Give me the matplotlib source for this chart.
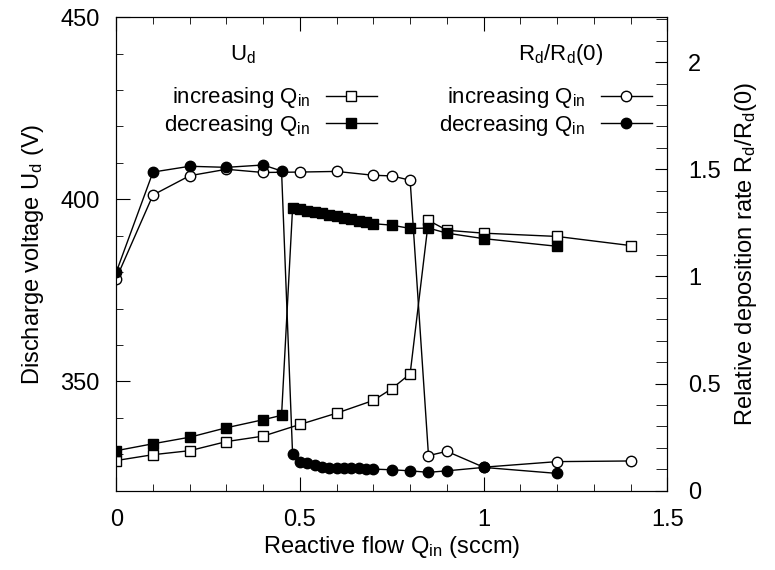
import matplotlib
matplotlib.use("Agg")
import matplotlib.pyplot as plt
from matplotlib.ticker import MultipleLocator

plt.rcParams['font.family'] = ['Liberation Sans', 'DejaVu Sans']
plt.rcParams['mathtext.default'] = 'regular'

# discharge voltage, increasing reactive flow
q_ud_inc = [0.0, 0.1, 0.2, 0.3, 0.4, 0.5, 0.6, 0.7, 0.75, 0.8, 0.85, 0.9, 1.0, 1.2, 1.4]
ud_inc = [328.3, 329.9, 331.0, 333.5, 335.0, 338.2, 341.3, 344.8, 348.0, 352.1,
          394.2, 391.5, 390.7, 389.8, 387.3]

# discharge voltage, decreasing reactive flow
q_ud_dec = [1.2, 1.0, 0.9, 0.85, 0.8, 0.75, 0.70, 0.68, 0.66, 0.64, 0.62, 0.60, 0.58,
            0.56, 0.54, 0.52, 0.50, 0.48, 0.45, 0.4, 0.3, 0.2, 0.1, 0.0]
ud_dec = [387.1, 389.2, 390.7, 392.1, 392.0, 392.9, 393.3, 393.7, 394.1, 394.5, 394.9,
          395.3, 395.7, 396.1, 396.5, 396.9, 397.3, 397.6, 340.7, 339.5, 337.3, 334.7,
          332.9, 331.0]

# relative deposition rate, increasing reactive flow
q_rd_inc = [0.0, 0.1, 0.2, 0.3, 0.4, 0.5, 0.6, 0.7, 0.75, 0.8, 0.85, 0.9, 1.0, 1.2, 1.4]
rd_inc = [0.99, 1.38, 1.47, 1.50, 1.485, 1.487, 1.49, 1.472, 1.469, 1.449,
          0.164, 0.184, 0.11, 0.136, 0.139]

# relative deposition rate, decreasing reactive flow
q_rd_dec = [1.2, 1.0, 0.9, 0.85, 0.8, 0.75, 0.70, 0.68, 0.66, 0.64, 0.62, 0.60, 0.58,
            0.56, 0.54, 0.52, 0.50, 0.48, 0.45, 0.4, 0.3, 0.2, 0.1, 0.0]
rd_dec = [0.081, 0.109, 0.093, 0.086, 0.093, 0.098, 0.101, 0.103, 0.104, 0.105, 0.106,
          0.107, 0.108, 0.109, 0.121, 0.128, 0.132, 0.171, 1.492, 1.52, 1.509, 1.514,
          1.487, 1.02]

TICK = 17
LABEL = 17
LEG = 16


def main():
    fig = plt.figure(figsize=(7.75, 5.7), dpi=100)
    ax = fig.add_axes([0.150, 0.139, 0.711, 0.831])
    ax2 = ax.twinx()

    kw = dict(color='black', lw=1.0, ms=7.5, mew=1.0)
    l1, = ax.plot(q_ud_inc, ud_inc, marker='s', mfc='white', **kw)
    l2, = ax.plot(q_ud_dec, ud_dec, marker='s', mfc='black', **kw)
    l3, = ax2.plot(q_rd_inc, rd_inc, marker='o', mfc='white', **kw)
    l4, = ax2.plot(q_rd_dec, rd_dec, marker='o', mfc='black', **kw)

    ax.set_xlim(0, 1.5)
    ax.set_ylim(320, 450)
    ax2.set_ylim(0, 2.21)

    ax.xaxis.set_major_locator(MultipleLocator(0.5))
    ax.xaxis.set_minor_locator(MultipleLocator(0.1))
    ax.yaxis.set_major_locator(MultipleLocator(50))
    ax.yaxis.set_minor_locator(MultipleLocator(10))
    ax2.yaxis.set_major_locator(MultipleLocator(0.5))
    ax2.yaxis.set_minor_locator(MultipleLocator(0.1))
    ax.xaxis.set_major_formatter(plt.FuncFormatter(lambda v, p: '%g' % v))
    ax2.yaxis.set_major_formatter(plt.FuncFormatter(lambda v, p: '%g' % v))

    ax.tick_params(axis='x', which='both', direction='in', top=True, labelsize=TICK, pad=13)
    ax.tick_params(axis='y', which='both', direction='in', right=False, labelsize=TICK, pad=12)
    ax.tick_params(which='major', length=10)
    ax.tick_params(which='minor', length=5)
    ax2.tick_params(axis='y', which='both', direction='in', labelsize=TICK, pad=15)
    ax2.tick_params(which='major', length=9)
    ax2.tick_params(which='minor', length=8)

    ax.set_xlabel('Reactive flow Q$_{in}$ (sccm)', fontsize=LABEL, labelpad=2)
    ax.set_ylabel('Discharge voltage U$_d$ (V)', fontsize=LABEL, labelpad=10)
    ax2.set_ylabel('Relative deposition rate R$_d$/R$_d$(0)', fontsize=LABEL, labelpad=9)

    lkw = dict(frameon=False, markerfirst=False, numpoints=1, fontsize=LEG,
               handlelength=2.3, handletextpad=0.7, labelspacing=0.1,
               borderpad=0, borderaxespad=0, loc='upper right')
    labels = ['increasing Q$_{in}$', 'decreasing Q$_{in}$']
    leg1 = ax2.legend([l1, l2], labels, bbox_to_anchor=(0.4726, 0.856), **lkw)
    ax2.add_artist(leg1)
    ax2.legend([l3, l4], labels, bbox_to_anchor=(0.9717, 0.856), **lkw)

    ax2.text(0.2305, 0.92, 'U$_d$', transform=ax2.transAxes, ha='center', va='center',
             fontsize=LEG)
    ax2.text(0.806, 0.92, 'R$_d$/R$_d$(0)', transform=ax2.transAxes, ha='center',
             va='center', fontsize=LEG)

    fig.savefig('out.png', dpi=100)
    plt.close(fig)


if __name__ == '__main__':
    main()
